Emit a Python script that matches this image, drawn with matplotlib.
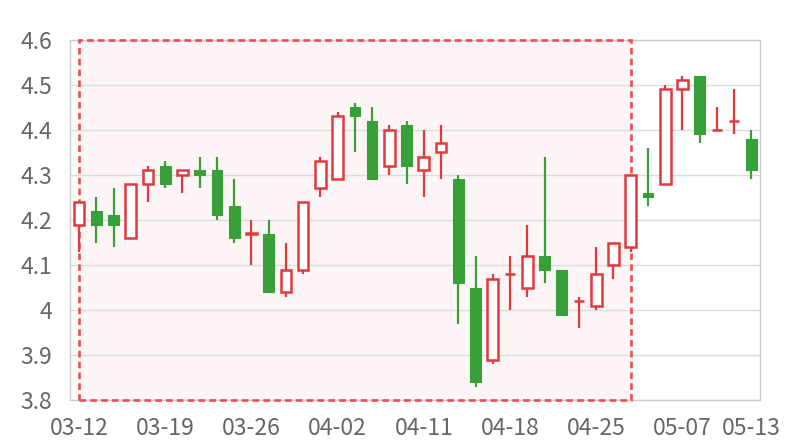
import matplotlib
matplotlib.use("Agg")
import matplotlib.pyplot as plt
from matplotlib.patches import Rectangle
from matplotlib.ticker import FuncFormatter

# Daily OHLC data
dates = ["03-12", "03-13", "03-14", "03-15", "03-18", "03-19", "03-20", "03-21", "03-22", "03-25",
         "03-26", "03-27", "03-28", "03-29", "04-01", "04-02", "04-03", "04-08", "04-09", "04-10",
         "04-11", "04-12", "04-15", "04-16", "04-17", "04-18", "04-19", "04-22", "04-23", "04-24",
         "04-25", "04-26", "04-29", "04-30", "05-06", "05-07", "05-08", "05-09", "05-10", "05-13"]
opens = [4.19, 4.22, 4.21, 4.16, 4.28, 4.32, 4.30, 4.31, 4.31, 4.23,
         4.17, 4.17, 4.04, 4.09, 4.27, 4.29, 4.45, 4.42, 4.32, 4.41,
         4.31, 4.35, 4.29, 4.05, 3.89, 4.08, 4.05, 4.12, 4.09, 4.02,
         4.01, 4.10, 4.14, 4.26, 4.28, 4.49, 4.52, 4.40, 4.42, 4.38]
closes = [4.24, 4.19, 4.19, 4.28, 4.31, 4.28, 4.31, 4.30, 4.21, 4.16,
          4.17, 4.04, 4.09, 4.24, 4.33, 4.43, 4.43, 4.29, 4.40, 4.32,
          4.34, 4.37, 4.06, 3.84, 4.07, 4.08, 4.12, 4.09, 3.99, 4.02,
          4.08, 4.15, 4.30, 4.25, 4.49, 4.51, 4.39, 4.40, 4.42, 4.31]
highs = [4.24, 4.25, 4.27, 4.28, 4.32, 4.33, 4.31, 4.34, 4.34, 4.29,
         4.20, 4.20, 4.15, 4.24, 4.34, 4.44, 4.46, 4.45, 4.41, 4.42,
         4.40, 4.41, 4.30, 4.12, 4.08, 4.12, 4.19, 4.34, 4.09, 4.03,
         4.14, 4.15, 4.30, 4.36, 4.50, 4.52, 4.52, 4.45, 4.49, 4.40]
lows = [4.13, 4.15, 4.14, 4.16, 4.24, 4.27, 4.26, 4.27, 4.20, 4.15,
        4.10, 4.04, 4.03, 4.08, 4.25, 4.29, 4.35, 4.29, 4.30, 4.28,
        4.25, 4.29, 3.97, 3.83, 3.88, 4.00, 4.03, 4.06, 3.99, 3.96,
        4.00, 4.07, 4.13, 4.23, 4.28, 4.40, 4.37, 4.40, 4.39, 4.29]
tick_dates = ["03-12", "03-19", "03-26", "04-02", "04-11", "04-18", "04-25", "05-07", "05-13"]
area_start, area_end = "03-12", "04-29"
y_min, y_max = 3.8, 4.6

up_color = "#e03a3e"
down_color = "#38a038"

fig = plt.figure(figsize=(8, 4.4), dpi=100)
ax = fig.add_axes([0.088, 0.0909, 0.862, 0.8182])

# highlighted range: fill below the grid, dashed border above the spines
x0, x1 = dates.index(area_start), dates.index(area_end)
ax.add_patch(Rectangle((x0, y_min), x1 - x0, y_max - y_min, facecolor="#fef6f6",
                       edgecolor="none", zorder=0.2))
ax.add_patch(Rectangle((x0, y_min), x1 - x0, y_max - y_min, facecolor="none",
                       edgecolor="#eb4f52", linestyle=(0, (2.5, 1.6)), linewidth=1.9,
                       zorder=2.7, clip_on=False))

width = 0.62
for i in range(len(dates)):
    o, c, h, l = opens[i], closes[i], highs[i], lows[i]
    up = c >= o
    col = up_color if up else down_color
    top, bot = max(o, c), min(o, c)
    ax.plot([i, i], [top, h], color=col, lw=1.6, zorder=3, solid_capstyle="butt")
    ax.plot([i, i], [l, bot], color=col, lw=1.6, zorder=3, solid_capstyle="butt")
    if up:
        ax.add_patch(Rectangle((i - width / 2, bot), width, max(top - bot, 0.001),
                               facecolor="white", edgecolor=col, linewidth=1.8, zorder=4))
    else:
        ax.add_patch(Rectangle((i - width / 2, bot), width, top - bot,
                               facecolor=col, edgecolor=col, linewidth=0.8, zorder=4))

ax.set_xlim(-0.5, len(dates) - 0.5)
ax.set_ylim(y_min, y_max)
ax.set_yticks([3.8, 3.9, 4.0, 4.1, 4.2, 4.3, 4.4, 4.5, 4.6])
ax.yaxis.set_major_formatter(FuncFormatter(lambda v, p: f"{v:g}"))
ax.set_xticks([dates.index(d) for d in tick_dates])
ax.set_xticklabels(tick_dates)
ax.grid(axis="y", color="#dcdcdc", linewidth=1, zorder=0.5)
ax.set_axisbelow(True)
for s in ax.spines.values():
    s.set_color("#cccccc")
    s.set_linewidth(1)
ax.tick_params(length=0, labelsize=16.5, labelcolor="#666666")
ax.tick_params(axis="y", pad=13)
ax.tick_params(axis="x", pad=12)
for lab in ax.get_xticklabels() + ax.get_yticklabels():
    lab.set_fontfamily(["Noto Sans CJK SC", "DejaVu Sans"])

fig.savefig("out.png", dpi=100)
